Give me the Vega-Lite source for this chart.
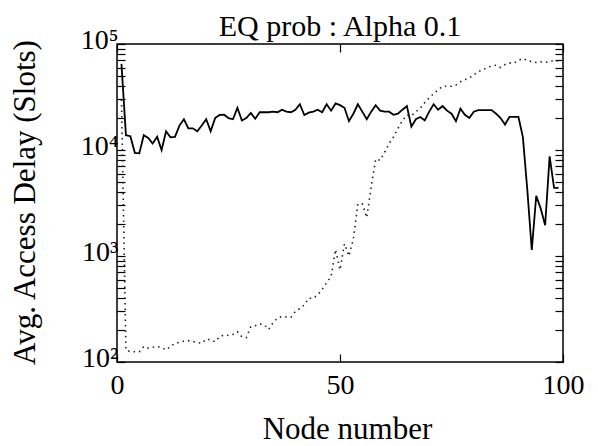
{
  "$schema": "https://vega.github.io/schema/vega-lite/v6.json",
  "width": 446,
  "height": 318,
  "autosize": "none",
  "padding": {"left": 117, "top": 44, "right": 35, "bottom": 84},
  "background": "white",
  "config": {
    "view": {"stroke": "black", "strokeWidth": 1.5},
    "font": "Liberation Serif",
    "axis": {
      "domain": false,
      "grid": false,
      "tickColor": "black",
      "tickWidth": 1.2,
      "tickSize": -8,
      "labelFont": "Liberation Serif",
      "labelFontSize": 28,
      "labelColor": "black",
      "labelFlush": false,
      "titleFont": "Liberation Serif",
      "titleFontSize": 31,
      "titleFontWeight": "normal",
      "titleColor": "black",
      "labelOverlap": false
    }
  },
  "title": {
    "text": "EQ prob : Alpha 0.1",
    "font": "Liberation Serif",
    "fontSize": 30,
    "fontWeight": "normal",
    "color": "black",
    "offset": 1,
    "dy": 17
  },
  "datasets": {
    "solid": [
      {"node": 1, "delay": 65000}, {"node": 2, "delay": 13800}, {"node": 3, "delay": 13500}, {"node": 4, "delay": 9400},
      {"node": 5, "delay": 9300}, {"node": 6, "delay": 13800}, {"node": 7, "delay": 13000}, {"node": 8, "delay": 11500},
      {"node": 9, "delay": 13300}, {"node": 10, "delay": 10000}, {"node": 11, "delay": 15000}, {"node": 12, "delay": 13200},
      {"node": 13, "delay": 13300}, {"node": 14, "delay": 17000}, {"node": 15, "delay": 19500}, {"node": 16, "delay": 16000},
      {"node": 17, "delay": 16000}, {"node": 18, "delay": 15000}, {"node": 19, "delay": 17000}, {"node": 20, "delay": 19500},
      {"node": 21, "delay": 15000}, {"node": 22, "delay": 20000}, {"node": 23, "delay": 21400}, {"node": 24, "delay": 21500},
      {"node": 25, "delay": 20000}, {"node": 26, "delay": 19500}, {"node": 27, "delay": 25000}, {"node": 28, "delay": 19000},
      {"node": 29, "delay": 20000}, {"node": 30, "delay": 22400}, {"node": 31, "delay": 19700}, {"node": 32, "delay": 22700},
      {"node": 33, "delay": 22700}, {"node": 34, "delay": 22700}, {"node": 35, "delay": 23000}, {"node": 36, "delay": 22700},
      {"node": 37, "delay": 24000}, {"node": 38, "delay": 23000}, {"node": 39, "delay": 22700}, {"node": 40, "delay": 24000},
      {"node": 41, "delay": 27000}, {"node": 42, "delay": 21400}, {"node": 43, "delay": 22500}, {"node": 44, "delay": 23000},
      {"node": 45, "delay": 24000}, {"node": 46, "delay": 22700}, {"node": 47, "delay": 27000}, {"node": 48, "delay": 23500},
      {"node": 49, "delay": 27500}, {"node": 50, "delay": 26500}, {"node": 51, "delay": 25000}, {"node": 52, "delay": 18700},
      {"node": 53, "delay": 22000}, {"node": 54, "delay": 27000}, {"node": 55, "delay": 23000}, {"node": 56, "delay": 19500},
      {"node": 57, "delay": 23000}, {"node": 58, "delay": 26500}, {"node": 59, "delay": 23500}, {"node": 60, "delay": 23000},
      {"node": 61, "delay": 23000}, {"node": 62, "delay": 21500}, {"node": 63, "delay": 22000}, {"node": 64, "delay": 24000},
      {"node": 65, "delay": 26000}, {"node": 66, "delay": 16600}, {"node": 67, "delay": 19500}, {"node": 68, "delay": 20500},
      {"node": 69, "delay": 19000}, {"node": 70, "delay": 23000}, {"node": 71, "delay": 27000}, {"node": 72, "delay": 24000},
      {"node": 73, "delay": 26000}, {"node": 74, "delay": 23500}, {"node": 75, "delay": 22000}, {"node": 76, "delay": 18700},
      {"node": 77, "delay": 24500}, {"node": 78, "delay": 21500}, {"node": 79, "delay": 20000}, {"node": 80, "delay": 23000},
      {"node": 81, "delay": 23800}, {"node": 82, "delay": 23800}, {"node": 83, "delay": 23800}, {"node": 84, "delay": 23800},
      {"node": 85, "delay": 22000}, {"node": 86, "delay": 20000}, {"node": 87, "delay": 17400}, {"node": 88, "delay": 20500},
      {"node": 89, "delay": 20500}, {"node": 90, "delay": 20500}, {"node": 91, "delay": 13300}, {"node": 92, "delay": 4200},
      {"node": 93, "delay": 1140}, {"node": 94, "delay": 3700}, {"node": 95, "delay": 2800}, {"node": 96, "delay": 1950},
      {"node": 97, "delay": 8700}, {"node": 98, "delay": 4400}, {"node": 99, "delay": 4400}
    ],
    "dotted": [
      {"node": 1, "delay": 30000}, {"node": 2, "delay": 130}, {"node": 3, "delay": 125}, {"node": 4, "delay": 125},
      {"node": 5, "delay": 125}, {"node": 6, "delay": 140}, {"node": 7, "delay": 135}, {"node": 8, "delay": 138},
      {"node": 9, "delay": 140}, {"node": 10, "delay": 137}, {"node": 11, "delay": 130}, {"node": 12, "delay": 140},
      {"node": 13, "delay": 150}, {"node": 14, "delay": 153}, {"node": 15, "delay": 157}, {"node": 16, "delay": 159},
      {"node": 17, "delay": 156}, {"node": 18, "delay": 153}, {"node": 19, "delay": 150}, {"node": 20, "delay": 164},
      {"node": 21, "delay": 162}, {"node": 22, "delay": 155}, {"node": 23, "delay": 173}, {"node": 24, "delay": 180},
      {"node": 25, "delay": 178}, {"node": 26, "delay": 182}, {"node": 27, "delay": 193}, {"node": 28, "delay": 173},
      {"node": 29, "delay": 170}, {"node": 30, "delay": 215}, {"node": 31, "delay": 220}, {"node": 32, "delay": 228},
      {"node": 33, "delay": 225}, {"node": 34, "delay": 203}, {"node": 35, "delay": 235}, {"node": 36, "delay": 260},
      {"node": 37, "delay": 268}, {"node": 38, "delay": 266}, {"node": 39, "delay": 265}, {"node": 40, "delay": 300},
      {"node": 41, "delay": 320}, {"node": 42, "delay": 345}, {"node": 43, "delay": 400}, {"node": 44, "delay": 400},
      {"node": 45, "delay": 430}, {"node": 46, "delay": 485}, {"node": 47, "delay": 560}, {"node": 48, "delay": 640},
      {"node": 49, "delay": 1150}, {"node": 50, "delay": 740}, {"node": 51, "delay": 1300}, {"node": 52, "delay": 1000},
      {"node": 53, "delay": 1450}, {"node": 54, "delay": 3100}, {"node": 55, "delay": 3100}, {"node": 56, "delay": 2300},
      {"node": 57, "delay": 4500}, {"node": 58, "delay": 8200}, {"node": 59, "delay": 8000}, {"node": 60, "delay": 9500},
      {"node": 61, "delay": 11500}, {"node": 62, "delay": 13300}, {"node": 63, "delay": 16000}, {"node": 64, "delay": 19000},
      {"node": 65, "delay": 21400}, {"node": 66, "delay": 21000}, {"node": 67, "delay": 23000}, {"node": 68, "delay": 24700},
      {"node": 69, "delay": 28000}, {"node": 70, "delay": 31000}, {"node": 71, "delay": 34000}, {"node": 72, "delay": 37000},
      {"node": 73, "delay": 40000}, {"node": 74, "delay": 40000}, {"node": 75, "delay": 40000}, {"node": 76, "delay": 41000},
      {"node": 77, "delay": 44000}, {"node": 78, "delay": 46000}, {"node": 79, "delay": 48000}, {"node": 80, "delay": 51000},
      {"node": 81, "delay": 55000}, {"node": 82, "delay": 57000}, {"node": 83, "delay": 60000}, {"node": 84, "delay": 62000},
      {"node": 85, "delay": 63000}, {"node": 86, "delay": 60000}, {"node": 87, "delay": 64000}, {"node": 88, "delay": 66000},
      {"node": 89, "delay": 66000}, {"node": 90, "delay": 70000}, {"node": 91, "delay": 73000}, {"node": 92, "delay": 70000},
      {"node": 93, "delay": 68000}, {"node": 94, "delay": 67000}, {"node": 95, "delay": 68000}, {"node": 96, "delay": 67000},
      {"node": 97, "delay": 68000}, {"node": 98, "delay": 70000}, {"node": 99, "delay": 69000}
    ]
  },
  "layer": [
    {
      "data": {"name": "solid"},
      "mark": {"type": "line", "color": "black", "strokeWidth": 1.8},
      "encoding": {
        "x": {
          "field": "node", "type": "quantitative",
          "scale": {"domain": [0, 100], "nice": false, "zero": false},
          "axis": {"orient": "bottom", "values": [0, 50, 100], "title": "Node number", "labelPadding": 17,
                   "titleX": 230, "titleY": 76, "titleBaseline": "alphabetic"}
        },
        "y": {
          "field": "delay", "type": "quantitative",
          "scale": {"type": "log", "domain": [100, 100000], "nice": false},
          "axis": {
            "orient": "left",
            "title": "Avg. Access Delay (Slots)",
            "titleX": -92, "titleY": 158, "titleBaseline": "middle", "titleAngle": -90,
            "labelPadding": 7,
            "labelOffset": -4,
            "values": [100, 200, 300, 400, 500, 600, 700, 800, 900, 1000, 2000, 3000, 4000, 5000, 6000, 7000, 8000, 9000, 10000, 20000, 30000, 40000, 50000, 60000, 70000, 80000, 90000, 100000],
            "labelExpr": "datum.value == 100 ? '10²' : datum.value == 1000 ? '10³' : datum.value == 10000 ? '10⁴' : datum.value == 100000 ? '10⁵' : ''"
          }
        }
      }
    },
    {
      "data": {"name": "dotted"},
      "mark": {"type": "line", "color": "#222222", "strokeWidth": 1.6, "strokeDash": [1.5, 4]},
      "encoding": {
        "x": {
          "field": "node", "type": "quantitative",
          "scale": {"domain": [0, 100], "nice": false, "zero": false},
          "axis": {"orient": "top", "values": [0, 50, 100], "labels": false, "title": null}
        },
        "y": {
          "field": "delay", "type": "quantitative",
          "scale": {"type": "log", "domain": [100, 100000], "nice": false},
          "axis": {
            "orient": "right", "labels": false, "title": null,
            "values": [100, 200, 300, 400, 500, 600, 700, 800, 900, 1000, 2000, 3000, 4000, 5000, 6000, 7000, 8000, 9000, 10000, 20000, 30000, 40000, 50000, 60000, 70000, 80000, 90000, 100000]
          }
        }
      }
    }
  ],
  "resolve": {"axis": {"x": "independent", "y": "independent"}}
}
